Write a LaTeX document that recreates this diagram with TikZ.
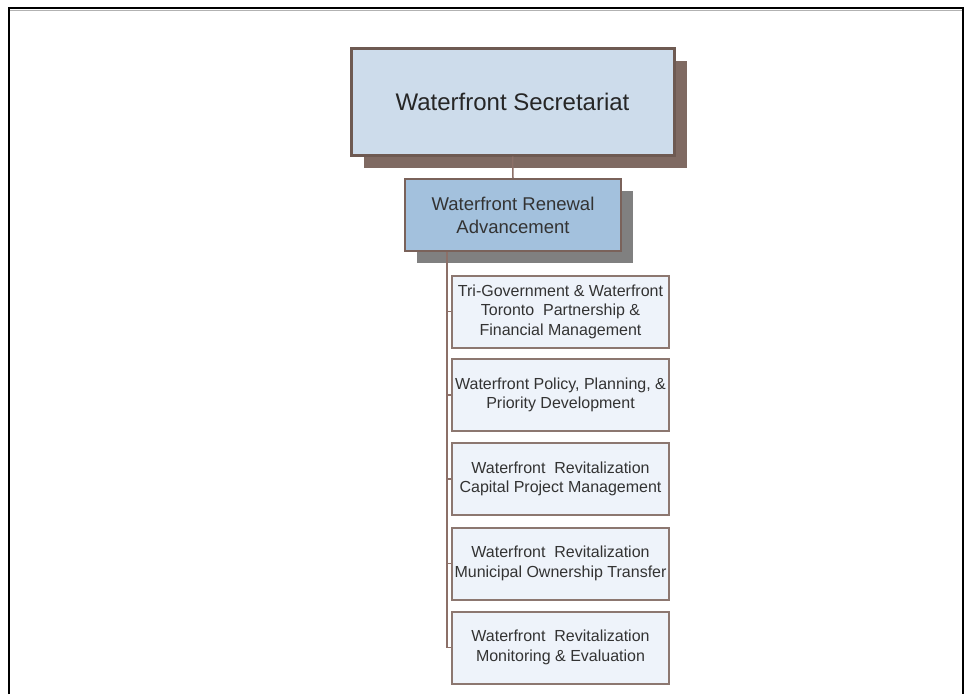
\documentclass[tikz,border=0pt]{standalone}
\usepackage{fontspec}
\setmainfont{Liberation Sans}
\usetikzlibrary{shadows}
\definecolor{topfill}{HTML}{CDDCEB}
\definecolor{topborder}{HTML}{6E5A52}
\definecolor{topshadow}{HTML}{7F6A62}
\definecolor{midfill}{HTML}{A3C1DD}
\definecolor{midborder}{HTML}{7A625A}
\definecolor{midshadow}{HTML}{808080}
\definecolor{kidfill}{HTML}{EEF3FA}
\definecolor{kidborder}{HTML}{8C7770}
\definecolor{linkcol}{HTML}{8C7068}
\definecolor{txt}{HTML}{333333}
\tikzset{
  x=1pt, y=1pt,
  topbox/.style={draw=topborder, line width=3pt, fill=topfill, minimum width=323pt, minimum height=107pt,
    inner sep=0pt, text=black!85, font=\fontsize{24}{28}\selectfont, align=center,
    drop shadow={shadow xshift=13pt, shadow yshift=-13pt, fill=topshadow, opacity=1}},
  midbox/.style={draw=midborder, line width=2pt, fill=midfill, minimum width=216pt, minimum height=72pt,
    inner sep=0pt, text=txt, font=\fontsize{18.5}{23}\selectfont, align=center,
    drop shadow={shadow xshift=12pt, shadow yshift=-12pt, fill=midshadow, opacity=1}},
  kidbox/.style={draw=kidborder, line width=2pt, fill=kidfill, minimum width=217pt, minimum height=72pt,
    inner sep=0pt, text=txt, font=\fontsize{16}{19.5}\selectfont, align=center},
  link/.style={draw=linkcol, line width=1.5pt},
  frame/.style={draw=black, line width=2pt}
}
\begin{document}
\begin{tikzpicture}
\useasboundingbox (0,0) rectangle (973,-694);
\fill[white] (0,0) rectangle (973,-694);
% frame
\draw[draw=black!30!white, line width=1.5pt] (10,-10.5) -- (962,-10.5);
\coordinate (fl) at (9.3,-694);
\coordinate (ftl) at (9.3,-8.3);
\coordinate (ftr) at (963,-8.3);
\coordinate (fr) at (963,-694);
\draw[frame] (fl) -- (ftl) -- (ftr) -- (fr);
% nodes
\node[topbox] (sec) at (512.5,-101.5) {Waterfront Secretariat};
\node[midbox] (wra) at (513,-215) {Waterfront Renewal\\Advancement};
\node[kidbox] (k1) at (560.5,-311.5) {Tri-Government \& Waterfront\\Toronto\ \ Partnership \&\\Financial Management};
\node[kidbox] (k2) at (560.5,-395) {Waterfront Policy, Planning, \&\\Priority Development};
\node[kidbox] (k3) at (560.5,-479) {Waterfront\ \ Revitalization\\Capital Project Management};
\node[kidbox] (k4) at (560.5,-563.5) {Waterfront\ \ Revitalization\\Municipal Ownership Transfer};
\node[kidbox] (k5) at (560.5,-647.5) {Waterfront\ \ Revitalization\\Monitoring \& Evaluation};
% connectors
\coordinate (trunk) at (447,-251);
\draw[link] (sec.south) -- (wra.north);
\draw[link] (wra.south -| trunk) |- (k5.west);
\foreach \k in {k1,k2,k3,k4}{
  \draw[link] (\k.west) -- (\k.west -| trunk);
}
\end{tikzpicture}
\end{document}
